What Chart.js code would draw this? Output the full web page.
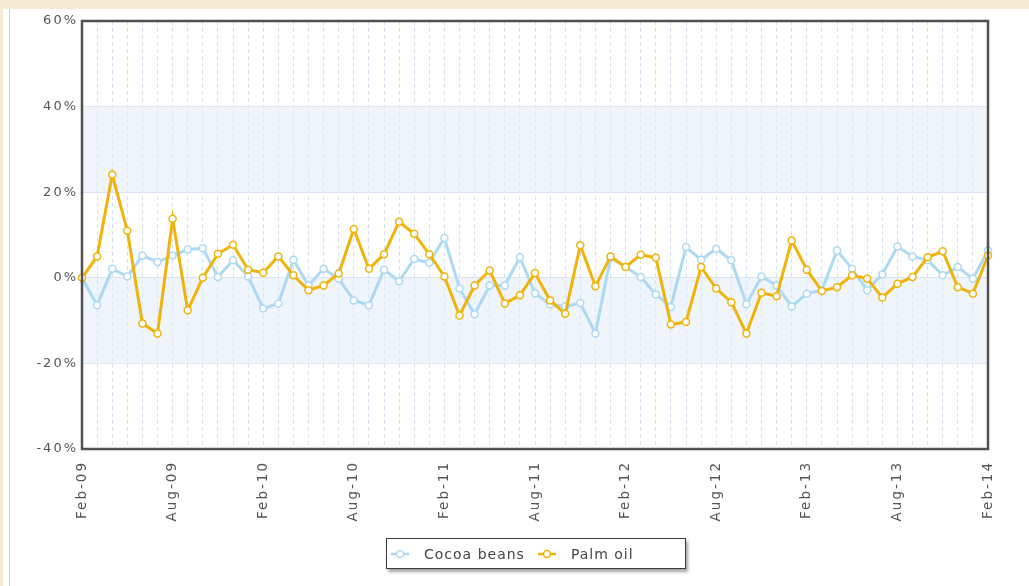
<!DOCTYPE html>
<html lang="en">
<head>
  <meta charset="UTF-8" />
  <script src="https://cdn.jsdelivr.net/npm/chart.js"></script>
  <title>Cocoa beans vs Palm oil</title>
  <style>
    body { margin: 0; background: #fff; font-family: "DejaVu Sans", sans-serif; }
    #wrap { position: relative; width: 1029px; height: 586px; overflow: hidden; }
    #topband { position: absolute; left: 0; top: 0; width: 1029px; height: 9px; background: #f6ead4; }
    #leftband { position: absolute; left: 0; top: 0; width: 3px; height: 586px; background: #f6ead4; }
    #leftline { position: absolute; left: 9px; top: 9px; width: 1px; height: 577px; background: #cfcfcf; }
    #grafico { position: absolute; left: 0; top: 0; }
    #leyenda {
      position: absolute; left: 386px; top: 538px; width: 295px; height: 29px;
      border: 1px solid #3a3a3a; background: #fff;
      box-shadow: 2px 3px 3px rgba(0,0,0,0.35);
      display: flex; align-items: center; justify-content: flex-start;
      padding-left: 3px; box-sizing: content-box;
      font-size: 14px; letter-spacing: 1px; color: #444;
    }
    #leyenda .item { display: flex; align-items: center; margin-right: 12px; }
    #leyenda canvas { margin-right: 14px; }
  </style>
</head>
<body>
  <div id="wrap">
    <div id="topband"></div>
    <div id="leftband"></div>
    <div id="leftline"></div>
    <canvas id="grafico" width="1029" height="586"></canvas>
    <div id="leyenda"></div>
  </div>
  <script>
    // meses, de Feb-09 a Feb-14
    const meses = [
      'Feb-09','Mar-09','Apr-09','May-09','Jun-09','Jul-09','Aug-09','Sep-09','Oct-09','Nov-09','Dec-09',
      'Jan-10','Feb-10','Mar-10','Apr-10','May-10','Jun-10','Jul-10','Aug-10','Sep-10','Oct-10','Nov-10','Dec-10',
      'Jan-11','Feb-11','Mar-11','Apr-11','May-11','Jun-11','Jul-11','Aug-11','Sep-11','Oct-11','Nov-11','Dec-11',
      'Jan-12','Feb-12','Mar-12','Apr-12','May-12','Jun-12','Jul-12','Aug-12','Sep-12','Oct-12','Nov-12','Dec-12',
      'Jan-13','Feb-13','Mar-13','Apr-13','May-13','Jun-13','Jul-13','Aug-13','Sep-13','Oct-13','Nov-13','Dec-13',
      'Jan-14','Feb-14'
    ];
    const cocoa = [
      0, -6.4, 2.1, 0.3, 5.2, 3.7, 5.2, 6.6, 6.9, 0.2, 4.1, 0.3, -7.2, -6.0, 4.2, -1.8,
      2.1, -0.2, -5.3, -6.4, 1.9, -0.8, 4.4, 3.5, 9.3, -2.5, -8.5, -1.8, -1.8, 4.8,
      -3.6, -6.2, -6.7, -5.9, -13.0, 4.7, 2.5, 0.2, -3.9, -6.8, 7.2, 4.2, 6.8, 4.1, -6.2,
      0.3, -1.8, -6.7, -3.7, -2.9, 6.4, 2.1, -2.9, 0.8, 7.3, 5.0, 4.1, 0.6, 2.5, -0.2, 6.4
    ];
    const palmOil = [
      0, 5.0, 24.1, 11.0, -10.7, -13.0, 13.8, -7.6, 0, 5.6, 7.7, 1.9, 1.2, 5.0, 0.6, -2.9,
      -1.8, 1.0, 11.4, 2.1, 5.5, 13.1, 10.3, 5.5, 0.3, -8.8, -1.8, 1.7, -6.0, -4.1,
      1.1, -5.3, -8.4, 7.6, -2.0, 5.0, 2.5, 5.4, 4.7, -10.9, -10.3, 2.5, -2.5, -5.7, -13.0,
      -3.5, -4.3, 8.7, 1.9, -3.1, -2.2, 0.6, -0.2, -4.6, -1.4, 0.2, 4.8, 6.2, -2.2, -3.7, 5.2
    ];
    const franjas = [[20, 40], [-20, 0]]; // bandas sombreadas

    const colorCocoa = '#addaf3';
    const colorPalm = '#f0b30a';

    // fondo de bandas, borde del area y espaciado de letras
    const pluginFondo = {
      id: 'fondo',
      beforeDraw(chart) {
        chart.ctx.letterSpacing = '2px';
      },
      beforeDatasetsDraw(chart) {
        const { ctx, chartArea: a, scales: { y } } = chart;
        ctx.save();
        ctx.fillStyle = 'rgba(225, 234, 248, 0.5)';
        franjas.forEach(f => {
          const y1 = y.getPixelForValue(f[1]);
          const y0 = y.getPixelForValue(f[0]);
          ctx.fillRect(a.left, y1, a.right - a.left, y0 - y1);
        });
        ctx.restore();
      },
      afterDatasetsDraw(chart) {
        const { ctx, chartArea: a } = chart;
        ctx.save();
        ctx.strokeStyle = '#505050';
        ctx.lineWidth = 2.5;
        ctx.strokeRect(a.left, a.top, a.right - a.left, a.bottom - a.top);
        ctx.restore();
      }
    };

    const ctx = document.getElementById('grafico').getContext('2d');
    const chart = new Chart(ctx, {
      type: 'line',
      data: {
        labels: meses,
        datasets: [{
          label: 'Cocoa beans',
          data: cocoa,
          borderColor: colorCocoa,
          backgroundColor: '#fff',
          borderWidth: 3,
          pointRadius: 3.5,
          pointBorderWidth: 1.5,
          pointBorderColor: colorCocoa,
          pointBackgroundColor: '#fff',
          tension: 0,
          clip: false,
          order: 2
        }, {
          label: 'Palm oil',
          data: palmOil,
          borderColor: colorPalm,
          backgroundColor: '#fff',
          borderWidth: 3,
          pointRadius: 3.5,
          pointBorderWidth: 1.5,
          pointBorderColor: colorPalm,
          pointBackgroundColor: '#fff',
          tension: 0,
          clip: false,
          order: 1
        }]
      },
      options: {
        responsive: false,
        animation: false,
        layout: { padding: { left: 0, right: 41, top: 21, bottom: 0 } },
        plugins: { legend: { display: false }, tooltip: { enabled: false } },
        scales: {
          x: {
            afterFit: s => { s.height = 137; },
            grid: { color: '#d6e0f0', drawTicks: false },
            border: { display: false, dash: [4, 3] },
            ticks: {
              autoSkip: false,
              minRotation: 90,
              maxRotation: 90,
              padding: 12,
              color: '#555',
              font: { family: 'DejaVu Sans', size: 13.5 },
              callback: (v, i) => (i % 6 === 0 ? meses[i] : '')
            }
          },
          y: {
            min: -40,
            max: 60,
            afterFit: s => { s.width = 82; },
            grid: { color: '#dbe4f3', drawTicks: false },
            border: { display: false },
            ticks: {
              stepSize: 20,
              padding: 4,
              color: '#555',
              font: { family: 'DejaVu Sans', size: 13 },
              callback: v => v + '%'
            }
          }
        }
      },
      plugins: [pluginFondo]
    });

    // leyenda en HTML con marcadores dibujados
    const leyenda = document.getElementById('leyenda');
    chart.data.datasets.forEach(ds => {
      const item = document.createElement('div');
      item.className = 'item';
      const mk = document.createElement('canvas');
      mk.width = 20; mk.height = 12;
      const c = mk.getContext('2d');
      c.strokeStyle = ds.borderColor;
      c.lineWidth = 2.5;
      c.beginPath(); c.moveTo(1, 6); c.lineTo(19, 6); c.stroke();
      c.fillStyle = '#fff';
      c.lineWidth = 1.5;
      c.beginPath(); c.arc(10, 6, 3.5, 0, Math.PI * 2); c.fill(); c.stroke();
      const txt = document.createElement('span');
      txt.textContent = ds.label;
      item.appendChild(mk);
      item.appendChild(txt);
      leyenda.appendChild(item);
    });
  </script>
</body>
</html>
